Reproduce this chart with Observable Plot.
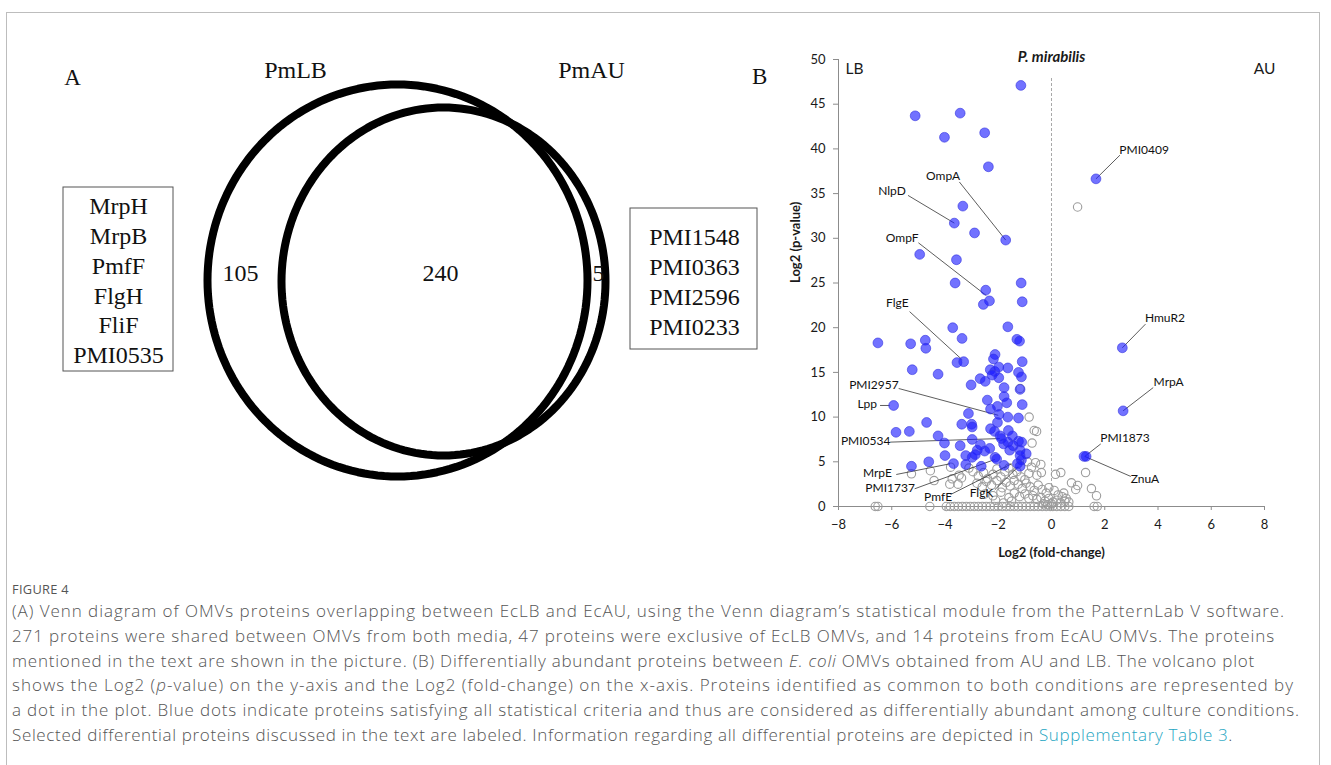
<!DOCTYPE html>
<html><head><meta charset="utf-8">
<script src="https://cdn.jsdelivr.net/npm/d3@7"></script>
<script src="https://cdn.jsdelivr.net/npm/@observablehq/plot@0.6"></script>
<style>
body{margin:0;background:#fff;width:1331px;height:765px;overflow:hidden;position:relative;font-family:"Open Sans",sans-serif;}
#frame{position:absolute;left:6px;top:12px;width:1314px;height:800px;border:1px solid #bdbdbd;box-sizing:border-box;}
#venn{position:absolute;left:0;top:0;}
#volcano{position:absolute;left:770px;top:40px;}
#panelB{position:absolute;left:752px;top:62px;font:23px "Liberation Serif",serif;color:#111;line-height:30px;}
.cap{position:absolute;left:12px;white-space:nowrap;color:#555;font-family:"Open Sans",sans-serif;}
.fig{font-size:12.8px;line-height:14px;letter-spacing:0.3px;top:582px;}
.cl{font-size:17px;line-height:20px;font-weight:300;}
.cl a{color:#1fa6c2;text-decoration:none;}
</style></head>
<body>
<div id="frame"></div>
<div id="venn"></div>
<div id="panelB">B</div>
<div id="volcano"></div>
<div class="cap fig">FIGURE 4</div>
<div id="captext"></div>
<script>
// ---------- Panel A: Venn data ----------
const vennSets = ["PmLB", "PmAU"];
const vennCounts = [105, 240, 5]; // LB only, shared, AU only
const lbOnlyProteins = ["MrpH", "MrpB", "PmfF", "FlgH", "FliF", "PMI0535"];
const auOnlyProteins = ["PMI1548", "PMI0363", "PMI2596", "PMI0233"];

// ---------- Panel B: volcano data ----------
// significant (blue) proteins: [log2 fold-change, log2 p-value]
const sigPoints = [
  [-1.15,47.1],[-5.12,43.7],[-3.43,44.0],[-4.02,41.3],[-2.51,41.8],[-2.37,38.0],[-3.33,33.6],[-3.65,31.7],
  [-2.89,30.6],[-1.72,29.8],[-4.95,28.2],[-3.57,27.6],[-3.62,25.0],[-2.47,24.2],[-2.33,23.0],[-2.56,22.6],
  [-1.14,25.0],[-1.10,22.9],[-3.71,20.0],[-1.64,20.1],[-6.52,18.3],[-5.29,18.2],[-4.74,18.6],[-4.72,17.7],
  [-3.36,18.8],[-1.30,18.7],[-1.20,18.5],[-3.55,16.1],[-3.30,16.2],[-2.12,17.0],[-2.18,16.5],[-1.10,16.2],
  [-5.23,15.3],[-4.26,14.8],[-2.30,15.3],[-2.13,15.1],[-2.23,14.7],[-1.98,15.6],[-1.98,14.4],[-1.64,15.5],
  [-1.24,15.0],[-1.13,14.5],[-3.02,13.6],[-2.68,14.3],[-2.49,14.0],[-1.78,13.3],[-1.18,13.1],[-1.78,12.3],
  [-5.93,11.3],[-2.41,11.9],[-1.68,11.6],[-1.10,11.4],[-2.03,11.2],[-2.29,10.9],[-1.97,10.3],[-3.12,10.4],
  [-1.64,10.0],[-1.24,9.9],[-4.69,9.4],[-3.37,9.2],[-3.00,9.2],[-2.98,8.9],[-2.03,9.4],[-2.29,8.7],
  [-2.14,8.4],[-1.62,8.5],[-5.84,8.3],[-5.34,8.4],[-4.26,7.9],[-4.02,7.1],[-2.98,7.5],[-3.43,6.8],
  [-2.67,6.9],[-1.93,7.9],[-1.88,7.6],[-1.80,7.0],[-1.64,7.2],[-1.47,7.9],[-1.44,6.8],[-1.24,7.3],
  [-1.12,7.2],[-2.79,6.3],[-2.51,6.2],[-2.32,6.5],[-1.57,6.3],[-1.18,6.3],[-0.95,5.9],[-3.22,5.7],
  [-2.98,5.5],[-2.86,5.8],[-2.12,5.5],[-2.06,5.3],[-1.18,5.7],[-1.13,5.2],[-4.00,5.7],[-5.26,4.5],
  [-4.61,5.0],[-3.68,4.8],[-3.22,4.7],[-2.64,4.5],[-1.78,4.6],[-1.28,4.8],[-1.18,4.5],
  [1.67,36.65],[2.66,17.75],[2.69,10.7],[1.22,5.6],[1.30,5.6]
];
// non-significant (grey) proteins
const nsPoints = [
  [0.98,33.5],[-0.84,10.0],[-0.65,8.5],[-0.56,8.4],[-0.73,7.1],[-1.18,13.2],
  [-0.9,5.0],[-0.6,4.9],[-0.4,4.7],[-0.75,4.4],[-0.38,3.8],[-0.55,3.5],[0.15,3.6],[0.35,3.8],
  [0.75,2.65],[0.98,2.35],[0.91,1.9],[1.5,2.0],[1.69,1.2],[1.28,3.8],[0.46,1.5],
  [-5.26,3.65],[-4.55,4.0],[-4.41,2.9],[-3.79,4.4],[-3.73,3.1],[-3.82,2.5],[-3.51,2.5],[-3.47,3.5],[-3.38,3.2],
  [-3.1,4.3],[-2.95,3.9],[-2.75,3.4],[-2.55,3.8],[-2.4,3.1],[-2.2,3.6],[-2.05,4.2],[-1.9,3.3],[-1.75,3.9],
  [-1.6,4.3],[-1.45,3.6],[-1.3,3.9],[-1.15,3.3],[-1.0,3.0],[-0.85,3.7],
  [-2.8,2.6],[-2.6,2.2],[-2.45,2.8],[-2.25,2.4],[-2.05,2.9],[-1.85,2.1],[-1.7,2.7],[-1.55,2.3],[-1.4,2.9],
  [-1.25,2.5],[-1.1,2.0],[-0.95,2.6],[-0.8,2.2],[-0.65,1.8],[-0.5,2.4],[-0.35,1.9],[-0.2,1.5],[-0.1,2.1],
  [0.1,1.8],[0.25,1.3],[0.4,1.1],[0.55,0.9],[0.65,0.5],
  [-2.5,1.4],[-2.2,1.2],[-1.9,1.6],[-1.6,1.0],[-1.4,1.5],[-1.2,1.1],[-1.0,1.4],[-0.85,0.9],[-0.7,1.2],
  [-0.55,0.8],[-0.4,1.0],[-0.25,0.6],[-0.1,0.9],[0.05,0.5],[0.2,0.7],[0.35,0.4],[0.5,0.6],[-0.3,0.3],
  [-0.15,0.2],[0,0.3],[-1.5,0.6],[-1.8,0.4],[-2.1,0.7],
  [-6.62,0],[-6.52,0],[-4.57,0],[-3.95,0],[-3.8,0],[-3.65,0],[-3.5,0],[-3.35,0],[-3.2,0],[-3.05,0],
  [-2.9,0],[-2.75,0],[-2.6,0],[-2.45,0],[-2.3,0],[-2.15,0],[-2.0,0],[-1.85,0],[-1.7,0],[-1.55,0],
  [-1.4,0],[-1.25,0],[-1.1,0],[-0.95,0],[-0.8,0],[-0.65,0],[-0.5,0],[-0.35,0],[-0.2,0],[-0.05,0],
  [0.05,0],[0.2,0],[0.35,0],[0.5,0],[0.65,0],[1.6,0],[1.72,0]
];
// labelled proteins: name, label position, leader start, leader end
const labelNames = ["OmpA","NlpD","OmpF","FlgE","PMI2957","Lpp","PMI0534","MrpE","PMI1737","PmfE","FlgK","PMI0409","HmuR2","MrpA","PMI1873","ZnuA"];
const labelPos = [[-4.07,37.0],[-5.99,35.3],[-5.61,30.0],[-5.79,22.7],[-6.67,13.6],[-6.92,11.4],[-6.98,7.3],[-6.54,3.77],[-6.06,2.09],[-4.26,1.04],[-2.63,1.49],[3.48,39.9],[4.26,21.1],[4.40,13.9],[2.76,7.68],[3.51,3.1]];
const leaderFrom = [[-3.46,36.3],[-5.39,34.8],[-5.0,29.5],[-5.33,21.8],[-5.74,13.2],[-6.44,11.3],[-6.06,7.2],[-5.83,3.58],[-5.14,1.98],[-3.79,1.34],[-2.13,1.87],[2.57,39.3],[3.53,20.4],[3.82,13.3],[1.85,7.0],[2.98,3.36]];
const leaderTo = [[-1.72,29.8],[-3.65,31.7],[-2.45,23.6],[-3.35,16.4],[-2.0,10.2],[-6.08,11.3],[-1.94,7.6],[-3.81,4.78],[-2.13,5.26],[-1.50,4.78],[-1.25,4.47],[1.67,36.65],[2.66,17.75],[2.69,10.7],[1.25,5.6],[1.25,5.6]];
const xTicks = [-8,-6,-4,-2,0,2,4,6,8];
const yTicks = [0,5,10,15,20,25,30,35,40,45,50];

// ---------- Panel A drawing (pixel layout) ----------
const vennShape = {PmLB:{cx:397, cy:280, rx:190, ry:196}, PmAU:{cx:443, cy:281, rx:162, ry:174}};
const outline = [];
for (const s of vennSets) {
  const e = vennShape[s];
  for (let a = 0; a < 360; a += 2) {
    const t = a * Math.PI / 180;
    outline.push({set: s, x: e.cx + e.rx * Math.cos(t), y: e.cy + e.ry * Math.sin(t)});
  }
}
const setLabelPos = [[295,70],[591,70]];
const countPos = [[240,273],[440,273],[598,273]];
const boxes = [{x1:63,x2:173,y1:187,y2:371},{x1:630,x2:757,y1:208,y2:349}];
const listText = [
  ...lbOnlyProteins.map((p,i)=>({t:p, x:118, y:206+i*29.8})),
  ...auOnlyProteins.map((p,i)=>({t:p, x:694, y:237+i*29.8}))
];
const venn = Plot.plot({
  width: 770, height: 570, margin: 0,
  x: {domain:[0,770], range:[0,770], axis:null},
  y: {domain:[0,570], range:[0,570], axis:null},
  style: {fontFamily:'"Liberation Serif", serif', fontSize:"24px", color:"#111", background:"transparent", overflow:"visible"},
  marks: [
    Plot.line(outline, {x:"x", y:"y", z:"set", curve:"linear-closed", stroke:"#000", strokeWidth:8}),
    Plot.rect(boxes, {x1:"x1", x2:"x2", y1:"y1", y2:"y2", fill:"none", stroke:"#555", strokeWidth:1}),
    Plot.text(listText, {x:"x", y:"y", text:"t", fontSize:24, fill:"#111"}),
    Plot.text(vennSets, {x:(d,i)=>setLabelPos[i][0], y:(d,i)=>setLabelPos[i][1], text:d=>d, fontSize:24, fill:"#111"}),
    Plot.text(vennCounts, {x:(d,i)=>countPos[i][0], y:(d,i)=>countPos[i][1], text:d=>String(d), fontSize:24, fill:"#111"}),
    Plot.text(["A"], {x:72, y:77, fontSize:23, fill:"#111"})
  ]
});
document.getElementById("venn").appendChild(venn);

// ---------- Panel B drawing ----------
const sig = sigPoints.map(([x,y])=>({x,y}));
const ns = nsPoints.map(([x,y])=>({x,y}));
const labels = labelNames.map((n,i)=>({name:n, tx:labelPos[i][0], ty:labelPos[i][1],
  x1:leaderFrom[i][0], y1:leaderFrom[i][1], x2:leaderTo[i][0], y2:leaderTo[i][1]}));
const axisColor = "#8c8c8c";
const volcano = Plot.plot({
  width: 540, height: 526,
  marginLeft: 68, marginRight: 46, marginTop: 19, marginBottom: 60,
  x: {domain:[-8,8]},
  y: {domain:[0,50]},
  style: {fontFamily:'Lato, "Open Sans", sans-serif', fontSize:"12.5px", color:"#1a1a1a", background:"transparent", overflow:"visible"},
  marks: [
    Plot.ruleX([0], {y1:0, y2:48.1, stroke:"#a8a8a8", strokeDasharray:"3,2"}),
    Plot.axisY(yTicks, {tickSize:5, tickPadding:8, stroke:axisColor, fill:"#1a1a1a", label:null, fontSize:13}),
    Plot.axisX(xTicks, {tickSize:4, tickPadding:9, stroke:axisColor, fill:"#1a1a1a", label:null, fontSize:13}),
    Plot.ruleX([-8], {y1:0, y2:50, stroke:axisColor}),
    Plot.ruleY([0], {x1:-8, x2:8, stroke:axisColor}),
    Plot.dot(ns, {x:"x", y:"y", r:4.2, stroke:"#9c9c9c", strokeWidth:1.1, fill:"none"}),
    Plot.link(labels, {x1:"x1", y1:"y1", x2:"x2", y2:"y2", stroke:"#333", strokeWidth:0.8}),
    Plot.dot(sig, {x:"x", y:"y", r:4.9, fill:"#1c1cff", fillOpacity:0.62, stroke:"#3434e0", strokeOpacity:0.6, strokeWidth:1}),
    Plot.text(labels, {x:"tx", y:"ty", text:"name", fontSize:12, fill:"#111"}),
    Plot.text(["Log2 (p-value)"], {frameAnchor:"left", rotate:-90, dx:-43, fontWeight:"bold", fontSize:13}),
    Plot.text(["Log2 (fold-change)"], {frameAnchor:"bottom", dy:50, fontWeight:"bold", fontSize:13}),
    Plot.text(["P. mirabilis"], {x:0, y:50, dy:-2, fontStyle:"italic", fontWeight:"bold", fontSize:15}),
    Plot.text(["LB"], {x:-8, y:50, dx:7, dy:10, textAnchor:"start", fontSize:15.5}),
    Plot.text(["AU"], {x:8, y:50, dy:10, fontSize:15.5})
  ]
});
document.getElementById("volcano").appendChild(volcano);

// ---------- caption ----------
const captionLines = [
  "(A) Venn diagram of OMVs proteins overlapping between EcLB and EcAU, using the Venn diagram’s statistical module from the PatternLab V software.",
  "271 proteins were shared between OMVs from both media, 47 proteins were exclusive of EcLB OMVs, and 14 proteins from EcAU OMVs. The proteins",
  "mentioned in the text are shown in the picture. (B) Differentially abundant proteins between <i>E. coli</i> OMVs obtained from AU and LB. The volcano plot",
  "shows the Log2 (<i>p</i>-value) on the y-axis and the Log2 (fold-change) on the x-axis. Proteins identified as common to both conditions are represented by",
  "a dot in the plot. Blue dots indicate proteins satisfying all statistical criteria and thus are considered as differentially abundant among culture conditions.",
  "Selected differential proteins discussed in the text are labeled. Information regarding all differential proteins are depicted in <a>Supplementary Table 3</a>."
];
const captionLineEnds = [1285, 1275, 1255, 1294, 1300, 1233];
const capHost = document.getElementById("captext");
captionLines.forEach((l,i)=>{
  const d = document.createElement("div");
  d.className = "cap cl";
  d.style.top = (601 + i*24.8) + "px";
  d.innerHTML = l;
  capHost.appendChild(d);
  const w = d.getBoundingClientRect().width;
  const n = d.textContent.length;
  d.style.letterSpacing = ((captionLineEnds[i] - 12 - w) / n) + "px";
});
</script>
</body></html>
